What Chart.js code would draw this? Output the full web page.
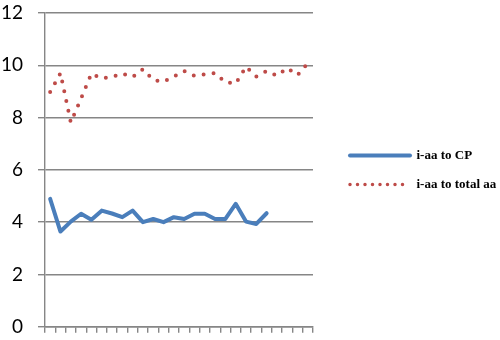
<!DOCTYPE html>
<html>
<head>
<meta charset="utf-8">
<script src="https://cdn.jsdelivr.net/npm/chart.js@4.4.1/dist/chart.umd.min.js"></script>
<style>
  html, body { margin: 0; padding: 0; background: #fff; }
  #wrap { width: 500px; height: 340px; }
</style>
</head>
<body>
<div id="wrap"><canvas id="c" width="500" height="340"></canvas></div>
<script>
// x categories (unlabelled in the original)
const categories = [1, 2, 3, 4, 5, 6, 7, 8, 9, 10, 11, 12, 13, 14, 15, 16, 17, 18, 19, 20, 21, 22, 23, 24, 25, 26];

const iaaToCP = [4.89, 3.64, 4.02, 4.32, 4.09, 4.44, 4.33, 4.19, 4.44, 4.0, 4.12,
                 4.0, 4.19, 4.12, 4.32, 4.32, 4.12, 4.12, 4.7, 4.02, 3.93, 4.34];

const iaaToTotal = [8.98, 9.7, 7.82, 8.73, 9.68, 9.5, 9.55, 9.68, 9.55, 9.85, 9.44, 9.37, 9.57,
                    9.78, 9.6, 9.65, 9.7, 9.35, 9.3, 9.95, 9.57, 9.78, 9.6, 9.89, 9.62, 10.08];

const yTicks = [0, 2, 4, 6, 8, 10, 12];

const gridGray = '#868686';

// put the legend where the original has it, without shrinking the plot
const legendPlace = {
  id: 'legendPlace',
  beforeLayout(chart) {
    const lg = chart.legend;
    if (lg && !lg._placed) {
      const fit = lg.fit;
      lg.fit = function () { fit.call(this); this.width = 187; };
      lg._placed = true;
    }
  },
  afterLayout(chart) {
    const lg = chart.legend;
    lg.left += 21;
    lg.right += 21;
  }
};

new Chart(document.getElementById('c'), {
  type: 'line',
  data: {
    labels: categories,
    datasets: [
      {
        label: 'i-aa to CP',
        data: iaaToCP,
        borderColor: '#4A7EBB',
        backgroundColor: '#4A7EBB',
        borderWidth: 4,
        borderCapStyle: 'round',
        borderJoinStyle: 'round',
        pointRadius: 0,
        tension: 0
      },
      {
        label: 'i-aa to total aa',
        data: iaaToTotal,
        borderColor: '#BE4B48',
        backgroundColor: '#BE4B48',
        borderWidth: 4,
        borderDash: [0, 10],
        borderCapStyle: 'round',
        pointRadius: 0,
        tension: 0
      }
    ]
  },
  options: {
    responsive: false,
    animation: false,
    layout: { padding: 0 },
    plugins: {
      tooltip: { enabled: false },
      legend: {
        position: 'right',
        labels: {
          usePointStyle: true,
          pointStyle: 'line',
          pointStyleWidth: 60,
          padding: 16,
          color: '#000',
          font: { family: '"Liberation Serif", serif', size: 13, weight: 'bold' },
          generateLabels(chart) {
            return chart.data.datasets.map((ds, i) => ({
              text: ds.label,
              datasetIndex: i,
              strokeStyle: ds.borderColor,
              fillStyle: ds.borderColor,
              lineWidth: i === 0 ? 4 : 3.5,
              lineDash: i === 0 ? [] : [0, 7.5],
              lineCap: 'round',
              pointStyle: 'line',
              fontColor: '#000',
              hidden: false
            }));
          }
        }
      }
    },
    scales: {
      x: {
        offset: true,
        afterFit(scale) { scale.height = 2; },
        grid: {
          offset: true,
          drawOnChartArea: false,
          drawTicks: true,
          tickLength: 6,
          color: gridGray,
          lineWidth: 1.4
        },
        border: { display: true, color: gridGray, width: 1.4 },
        ticks: { display: false }
      },
      y: {
        min: 0,
        max: 12,
        afterBuildTicks(scale) { scale.ticks = yTicks.map(v => ({ value: v })); },
        afterFit(scale) {
          scale.width = 45;
          scale.paddingTop = 13;
          scale.paddingBottom = 13.3;
        },
        grid: {
          color: gridGray,
          lineWidth: 1.4,
          tickLength: 7
        },
        border: { display: true, color: gridGray, width: 1.4 },
        ticks: {
          padding: 15,
          color: '#000',
          font: { family: 'Lato, "Liberation Sans", sans-serif', size: 19 }
        }
      }
    }
  },
  plugins: [legendPlace]
});
</script>
</body>
</html>
